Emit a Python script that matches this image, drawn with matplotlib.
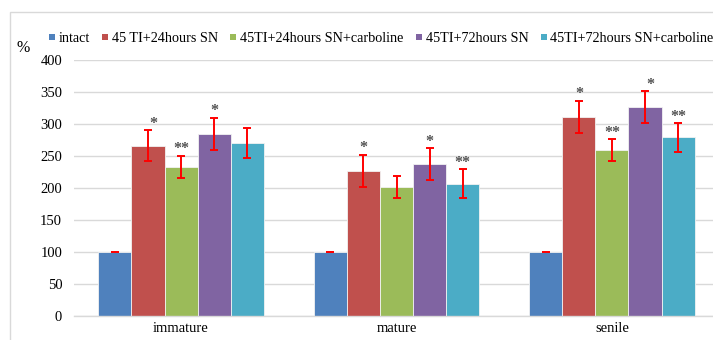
import matplotlib
matplotlib.use("Agg")
import matplotlib.pyplot as plt
import numpy as np
from matplotlib.patches import Rectangle

categories = ["immature", "mature", "senile"]
series_names = ["intact", "45 TI+24hours SN", "45TI+24hours SN+carboline",
                "45TI+72hours SN", "45TI+72hours SN+carboline"]
intact = [100, 100, 100]
ti24 = [266, 227, 311]
ti24_carb = [233, 201, 259]
ti72 = [285, 237, 326]
ti72_carb = [270, 207, 279]
values = [intact, ti24, ti24_carb, ti72, ti72_carb]

err_intact = [0, 0, 0]
err_ti24 = [24, 25, 25]
err_ti24_carb = [17, 17, 17]
err_ti72 = [25, 25, 25]
err_ti72_carb = [23, 22, 22]
errors = [err_intact, err_ti24, err_ti24_carb, err_ti72, err_ti72_carb]

marks_intact = ["", "", ""]
marks_ti24 = ["*", "*", "*"]
marks_ti24_carb = ["**", "", "**"]
marks_ti72 = ["*", "*", "*"]
marks_ti72_carb = ["", "**", "**"]
marks = [marks_intact, marks_ti24, marks_ti24_carb, marks_ti72, marks_ti72_carb]

yticks = [0, 50, 100, 150, 200, 250, 300, 350, 400]

colors = ["#4F81BD", "#C0504D", "#9BBB59", "#8064A2", "#4BACC6"]

plt.rcParams['font.family'] = ['Liberation Serif', 'DejaVu Serif']

W, H = 713, 340
fig = plt.figure(figsize=(W / 100, H / 100), dpi=100)

# outer chart frame
fig.patches.append(Rectangle((10 / W, -0.01), 1.0, 1 - 12 / H + 0.01,
                             transform=fig.transFigure, fill=False,
                             edgecolor="#d9d9d9", linewidth=1.0))

ax = fig.add_axes([74 / W, (H - 316) / H, (W - 74) / W, 256 / H])

# small label nudges (points) for asterisk placement
mark_dx = [[0, 0, 0], [4, 0, 0], [0, 0, 0], [0, 0, 4], [0, 0, 0]]

x = np.arange(len(categories))
bw = 0.1535
for i, (vals, errs, col, name) in enumerate(zip(values, errors, colors, series_names)):
    pos = x + (i - 2) * bw
    ax.bar(pos, vals, width=bw, color=col, edgecolor="#f2f2f2", linewidth=0.6,
           label=name, zorder=2)
    ax.errorbar(pos, vals, yerr=errs, fmt="none", ecolor="#ff0000",
                elinewidth=1.4, capsize=3.2, capthick=1.4, zorder=3)
    for j, (p, v, e, m) in enumerate(zip(pos, vals, errs, marks[i])):
        if m:
            ax.annotate(m, (p, v + e), xytext=(mark_dx[i][j], 2.0),
                        textcoords="offset points",
                        ha="center", va="baseline", fontsize=11.5,
                        fontweight="bold", color="#505050", zorder=4)

ax.set_xlim(-0.497, 2.469)
ax.set_ylim(0, 400)
ax.set_yticks(yticks)
ax.set_xticks(x)
ax.set_xticklabels(categories)
ax.tick_params(axis="both", length=0, labelsize=10.5, colors="#000000")
ax.tick_params(axis="y", pad=8.5)
ax.tick_params(axis="x", pad=4)
ax.yaxis.grid(True, color="#d9d9d9", linewidth=1.0, zorder=0)
ax.set_axisbelow(True)
for s in ["top", "right", "left"]:
    ax.spines[s].set_visible(False)
ax.spines["bottom"].set_color("#d9d9d9")
ax.spines["bottom"].set_linewidth(1.0)

fig.text(23 / W, 1 - 48 / H, "%", ha="center", va="center", fontsize=11.5)

# manual legend laid out left to right
renderer = fig.canvas.get_renderer()
lx = 49.0
ly = 37.0
sq = 6.0
for name, col in zip(series_names, colors):
    fig.patches.append(Rectangle((lx / W, 1 - (ly + sq / 2) / H), sq / W, sq / H,
                                 transform=fig.transFigure, facecolor=col,
                                 edgecolor="none"))
    t = fig.text((lx + sq + 4) / W, 1 - ly / H, name, ha="left", va="center_baseline",
                 fontsize=10.2)
    wpx = t.get_window_extent(renderer=renderer).width
    lx = lx + sq + 4 + wpx + 12

fig.savefig("out.png", dpi=100)
